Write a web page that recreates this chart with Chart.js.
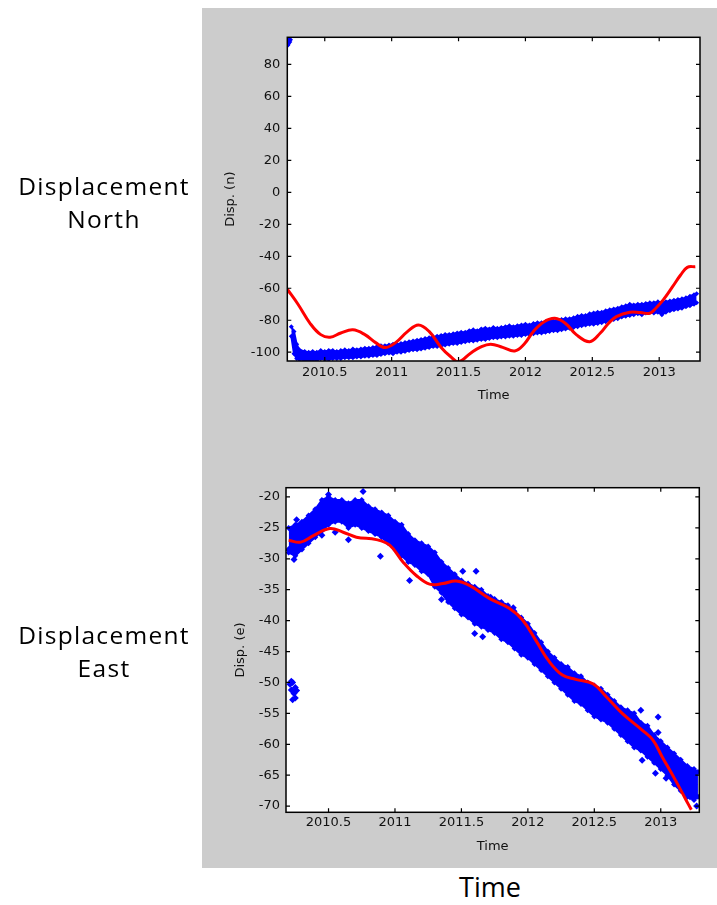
<!DOCTYPE html>
<html>
<head>
<meta charset="utf-8">
<script src="https://cdn.jsdelivr.net/npm/chart.js@4.4.1/dist/chart.umd.min.js"></script>
<style>
  html, body { margin: 0; padding: 0; background: #fff; }
  body { width: 717px; height: 905px; position: relative; overflow: hidden; font-family: "Open Sans", sans-serif; color: #000; }
  .panel { position: absolute; left: 202px; top: 8px; width: 515px; height: 860px; background: #cccccc; }
  canvas { position: absolute; }
  .side { position: absolute; left: 0; width: 208px; text-align: center; font-size: 24.5px; line-height: 33.5px; letter-spacing: 1.3px; }
  .time { position: absolute; left: 390px; top: 872px; width: 200px; text-align: center; font-size: 27px; line-height: 30px; }
</style>
</head>
<body>
<div class="panel"></div>
<canvas id="north" width="515" height="420" style="left:202px;top:8px"></canvas>
<canvas id="east" width="515" height="428" style="left:202px;top:440px"></canvas>
<div class="side" style="top:168.5px">Displacement<br>North</div>
<div class="side" style="top:617.5px">Displacement<br>East</div>
<div class="time">Time</div>
<script>
// tick labels
const timeTicks = [2010.5, 2011, 2011.5, 2012, 2012.5, 2013];
const northTicks = [-100, -80, -60, -40, -20, 0, 20, 40, 60, 80];
const eastTicks = [-70, -65, -60, -55, -50, -45, -40, -35, -30, -25, -20];

// north: smooth fit (red)
const northFitT = [2010.22, 2010.30, 2010.39, 2010.47, 2010.54, 2010.62, 2010.71, 2010.80, 2010.88, 2010.95,
  2011.03, 2011.12, 2011.20, 2011.28, 2011.37, 2011.44, 2011.50, 2011.59, 2011.66, 2011.74,
  2011.83, 2011.92, 2011.99, 2012.06, 2012.14, 2012.22, 2012.30, 2012.38, 2012.48, 2012.56,
  2012.62, 2012.68, 2012.78, 2012.86, 2012.93, 2012.98, 2013.03, 2013.10, 2013.16, 2013.21, 2013.27];
const northFitV = [-60.6, -70, -81.9, -89, -90.6, -88, -86, -89, -94, -97.1,
  -94, -87, -83, -87, -97, -102.7, -106, -100.6, -97, -95,
  -97, -99.2, -95, -87, -81, -78.8, -82, -89, -93.4, -88,
  -82, -77.7, -75, -75.2, -75.6, -72, -67.3, -59, -51.7, -46.9, -46.5];

// north: daily solutions (blue), upper and lower edge of the cloud
const northObsT = [2010.25, 2010.27, 2010.29, 2010.31, 2010.35, 2010.38, 2010.41, 2010.44, 2010.47, 2010.50,
  2010.53, 2010.56, 2010.59, 2010.62, 2010.65, 2010.68, 2010.71, 2010.74, 2010.77, 2010.80,
  2010.83, 2010.86, 2010.89, 2010.92, 2010.95, 2010.98, 2011.01, 2011.04, 2011.07, 2011.10,
  2011.13, 2011.16, 2011.19, 2011.22, 2011.25, 2011.28, 2011.31, 2011.34, 2011.37, 2011.40,
  2011.43, 2011.46, 2011.49, 2011.52, 2011.55, 2011.58, 2011.61, 2011.64, 2011.67, 2011.70,
  2011.73, 2011.76, 2011.79, 2011.82, 2011.85, 2011.88, 2011.91, 2011.94, 2011.97, 2012.00,
  2012.03, 2012.06, 2012.09, 2012.12, 2012.15, 2012.18, 2012.21, 2012.24, 2012.27, 2012.30,
  2012.33, 2012.36, 2012.39, 2012.42, 2012.45, 2012.48, 2012.51, 2012.54, 2012.57, 2012.60,
  2012.63, 2012.66, 2012.69, 2012.72, 2012.75, 2012.78, 2012.81, 2012.84, 2012.87, 2012.90,
  2012.93, 2012.96, 2012.99, 2013.02, 2013.05, 2013.08, 2013.11, 2013.14, 2013.17, 2013.20,
  2013.23, 2013.26, 2013.28];
const northObsHi = [-84, -87, -95, -98.5, -99.5, -100, -99.5, -100, -99, -99.5,
  -99, -99, -99.5, -99, -98.5, -99, -98, -98.5, -98, -97.5,
  -97.5, -97, -96.5, -96, -96, -95.5, -95, -95, -94.5, -94,
  -93.5, -93, -92.5, -92, -91.5, -91, -90.5, -90, -89.5, -89,
  -89, -88.5, -88, -87.5, -87.5, -86.5, -86, -86.5, -85.5, -85,
  -85.5, -84.5, -85, -84.5, -84, -83.5, -84, -83.5, -83, -82.5,
  -83, -82, -81.5, -81.5, -81, -80.5, -80.5, -80, -79.5, -79,
  -79, -78.5, -77.5, -77, -77, -76, -75.5, -75, -75, -74,
  -73.5, -73, -72.5, -71.5, -71, -70, -70.5, -70, -70, -69.5,
  -69, -69, -68.5, -69, -68.5, -68, -67.5, -67, -66.5, -66,
  -65, -64, -63.5];
const northObsLo = [-90, -101, -104, -104.5, -105, -105, -104.5, -105, -104, -104.5,
  -104.5, -104, -104, -104, -103.5, -103.5, -103.5, -103, -103, -102.5,
  -102.5, -102, -102, -101.5, -101, -100.5, -101, -100, -100, -99.5,
  -99, -98.5, -98.5, -98, -97.5, -97, -96.5, -96.5, -96, -95.5,
  -95, -94.5, -94.5, -94, -93.5, -93, -93, -92.5, -92, -92,
  -91.5, -91, -91, -90.5, -90.5, -90, -90, -89.5, -89.5, -89,
  -89, -88.5, -88, -88, -87.5, -87, -86.5, -86.5, -86, -85.5,
  -85, -84.5, -84, -83.5, -83, -82.5, -82.5, -82, -81.5, -81,
  -80, -79.5, -79, -78, -77.5, -77, -76.5, -76, -76.5, -75.5,
  -75, -75.5, -75, -76.5, -75, -74, -73.5, -73, -72.5, -71.5,
  -71, -70, -69];
const northOutT = [2010.22, 2010.225, 2010.23, 2010.235, 2010.22, 2010.24];
const northOutV = [95, 93, 96, 94, 92, 95.5];

// east: smooth fit (red)
const eastFitT = [2010.20, 2010.29, 2010.39, 2010.51, 2010.61, 2010.71, 2010.86, 2010.96, 2011.06, 2011.16,
  2011.26, 2011.36, 2011.46, 2011.56, 2011.71, 2011.86, 2011.96, 2012.06, 2012.16, 2012.26,
  2012.36, 2012.49, 2012.59, 2012.71, 2012.86, 2012.94, 2013.01, 2013.11, 2013.19, 2013.23];
const eastFitV = [-27.0, -27.3, -26.2, -25.1, -25.7, -26.5, -26.9, -27.8, -30.5, -32.7,
  -34.1, -34.0, -33.6, -34.3, -36.4, -38.0, -39.9, -43.2, -46.6, -48.8,
  -49.5, -50.2, -52.3, -55.0, -57.7, -59.3, -62.0, -65.8, -69.0, -70.6];

// east: daily solutions (blue)
const eastObsT = [2010.20, 2010.25, 2010.30, 2010.35, 2010.40, 2010.45, 2010.50, 2010.55, 2010.60, 2010.65,
  2010.70, 2010.75, 2010.80, 2010.85, 2010.90, 2010.95, 2011.00, 2011.05, 2011.10, 2011.15,
  2011.20, 2011.25, 2011.30, 2011.35, 2011.40, 2011.45, 2011.50, 2011.55, 2011.60, 2011.65,
  2011.70, 2011.75, 2011.80, 2011.85, 2011.90, 2011.95, 2012.00, 2012.05, 2012.10, 2012.15,
  2012.20, 2012.25, 2012.30, 2012.35, 2012.40, 2012.45, 2012.50, 2012.55, 2012.60, 2012.65,
  2012.70, 2012.75, 2012.80, 2012.85, 2012.90, 2012.95, 2013.00, 2013.05, 2013.10, 2013.15,
  2013.20, 2013.25, 2013.28];
const eastObsHi = [-25.0, -24.5, -24.0, -23.0, -22.0, -20.5, -20.0, -20.5, -20.5, -21.0,
  -20.5, -20.5, -21.5, -22.0, -22.5, -23.0, -24.0, -24.5, -26.0, -27.0,
  -27.5, -28.0, -29.0, -30.5, -31.5, -32.5, -33.5, -34.0, -34.5, -35.0,
  -36.0, -36.5, -37.0, -37.5, -38.5, -39.5, -40.5, -42.0, -43.5, -45.0,
  -46.0, -47.0, -47.5, -48.5, -49.0, -50.0, -50.5, -51.0, -52.0, -53.0,
  -54.0, -54.5, -55.0, -56.5, -57.0, -58.5, -59.5, -60.5, -61.5, -62.5,
  -63.5, -64.0, -64.5];
const eastObsLo = [-29.0, -29.5, -28.5, -27.5, -26.5, -25.5, -24.5, -24.0, -24.0, -25.0,
  -24.5, -25.0, -25.5, -26.0, -26.5, -27.5, -28.5, -29.5, -30.5, -31.0,
  -32.0, -32.5, -34.5, -35.5, -37.0, -38.0, -39.0, -39.5, -40.5, -41.0,
  -41.5, -42.0, -43.0, -43.5, -44.5, -45.5, -46.0, -47.0, -48.0, -49.0,
  -50.0, -51.0, -52.0, -53.0, -53.5, -54.5, -55.5, -56.0, -56.5, -57.5,
  -58.5, -59.5, -60.5, -61.0, -62.0, -63.0, -64.0, -65.0, -66.5, -67.5,
  -68.5, -69.0, -68.5];
const eastOutT = [2010.20, 2010.24, 2010.26, 2010.45, 2010.55, 2010.65, 2010.76, 2010.50, 2010.89, 2011.11,
  2011.35, 2011.51, 2011.61, 2011.60, 2011.66, 2011.72, 2011.89, 2012.85, 2012.98, 2012.98,
  2012.86, 2012.96, 2013.04, 2013.27, 2013.22,
  2010.21, 2010.22, 2010.23, 2010.24, 2010.25, 2010.23, 2010.26, 2010.22, 2010.25];
const eastOutV = [-28.5, -30.1, -23.7, -26.2, -25.7, -26.9, -19.1, -19.6, -29.6, -33.5,
  -36.6, -32.0, -32.0, -42.1, -42.6, -36.2, -37.9, -54.5, -55.6, -58.1,
  -62.6, -64.7, -65.5, -70.0, -68.5,
  -50.3, -51.2, -50.0, -51.8, -52.5, -52.8, -51.3, -49.8, -50.8];

const BLUE = "#0000ff";
const RED = "#ff0000";
const TEXT = "#111111";

Chart.defaults.font.family = "'DejaVu Sans', sans-serif";
Chart.defaults.font.size = 13;
Chart.defaults.color = TEXT;

const xy = (ts, vs) => ts.map((t, i) => ({ x: t, y: vs[i] }));

// white plot area, black box and inward ticks on all four sides
const boxFrame = {
  id: "boxFrame",
  beforeDatasetsDraw(chart) {
    const { ctx, chartArea: a } = chart;
    ctx.save();
    ctx.fillStyle = "#ffffff";
    ctx.fillRect(a.left, a.top, a.width, a.height);
    ctx.restore();
  },
  afterDatasetsDraw(chart) {
    const { ctx, chartArea: a } = chart;
    const { x, y } = chart.scales;
    ctx.save();
    ctx.strokeStyle = "#000";
    ctx.lineWidth = 1.2;
    ctx.beginPath();
    x.ticks.forEach((t) => {
      const px = x.getPixelForValue(t.value);
      ctx.moveTo(px, a.bottom);
      ctx.lineTo(px, a.bottom - 4);
      ctx.moveTo(px, a.top);
      ctx.lineTo(px, a.top + 4);
    });
    y.ticks.forEach((t) => {
      const py = y.getPixelForValue(t.value);
      ctx.moveTo(a.left, py);
      ctx.lineTo(a.left + 4, py);
      ctx.moveTo(a.right, py);
      ctx.lineTo(a.right - 4, py);
    });
    ctx.stroke();
    ctx.lineWidth = 1.5;
    ctx.strokeRect(a.left, a.top, a.width, a.height);
    ctx.restore();
  },
};

// the cloud of daily solutions: solid band between its upper and lower
// edge, diamonds along both edges, and the stray points
function cloud(ts, hi, lo, out, radius) {
  const pt = {
    pointRadius: radius,
    pointBackgroundColor: BLUE,
    pointBorderColor: BLUE,
    pointBorderWidth: 0,
  };
  return [
    { data: xy(ts, hi), borderColor: BLUE, borderWidth: 2, backgroundColor: BLUE, fill: false, ...pt },
    { data: xy(ts, lo), borderColor: BLUE, borderWidth: 2, backgroundColor: BLUE, fill: { target: "-1", above: BLUE, below: BLUE }, ...pt },
    { data: out, showLine: false, ...pt, pointRadius: radius + 0.5 },
  ];
}

function drawPanel(id, p) {
  new Chart(document.getElementById(id), {
    type: "line",
    data: {
      datasets: [
        { data: p.fit, borderColor: RED, borderWidth: 3, pointRadius: 0, tension: 0.4, fill: false },
        ...p.cloud,
      ],
    },
    options: {
      responsive: false,
      animation: false,
      layout: { padding: p.padding },
      plugins: { legend: { display: false }, tooltip: { enabled: false } },
      elements: { point: { pointStyle: "rectRot" } },
      scales: {
        x: {
          type: "linear",
          min: p.xMin,
          max: p.xMax,
          afterBuildTicks: (s) => { s.ticks = timeTicks.map((v) => ({ value: v })); },
          afterFit: (s) => { s.height = p.xHeight; },
          grid: { display: false, drawTicks: false },
          border: { display: false },
          ticks: { padding: p.xPad, maxRotation: 0, autoSkip: false, callback: (v) => String(v) },
          title: { display: true, text: "Time", padding: { top: 0, bottom: p.xTitlePad } },
        },
        y: {
          min: p.yMin,
          max: p.yMax,
          afterBuildTicks: (s) => { s.ticks = p.yTicks.map((v) => ({ value: v })); },
          afterFit: (s) => { s.width = p.yWidth; },
          grid: { display: false, drawTicks: false },
          border: { display: false },
          ticks: { padding: p.yPad },
          title: { display: true, text: p.yLabel, padding: { top: p.yTitlePad, bottom: 0 } },
        },
      },
    },
    plugins: [boxFrame],
  });
}

drawPanel("north", {
  fit: xy(northFitT, northFitV),
  cloud: cloud(northObsT, northObsHi, northObsLo, xy(northOutT, northOutV), 2.5),
  padding: { left: 0, top: 29.3, right: 17, bottom: 0 },
  xMin: 2010.22, xMax: 2013.305, xHeight: 67, xPad: 4, xTitlePad: 24.7,
  yMin: -105.5, yMax: 97, yTicks: northTicks, yWidth: 85.3, yPad: 7, yTitlePad: 21.2,
  yLabel: "Disp. (n)",
});

drawPanel("east", {
  fit: xy(eastFitT, eastFitV),
  cloud: cloud(eastObsT, eastObsHi, eastObsLo, xy(eastOutT, eastOutV), 3),
  padding: { left: 0, top: 47.7, right: 17.7, bottom: 0 },
  xMin: 2010.18, xMax: 2013.29, xHeight: 55.7, xPad: 3, xTitlePad: 13.5,
  yMin: -71, yMax: -18.5, yTicks: eastTicks, yWidth: 84, yPad: 6, yTitlePad: 30.7,
  yLabel: "Disp. (e)",
});
</script>
</body>
</html>
